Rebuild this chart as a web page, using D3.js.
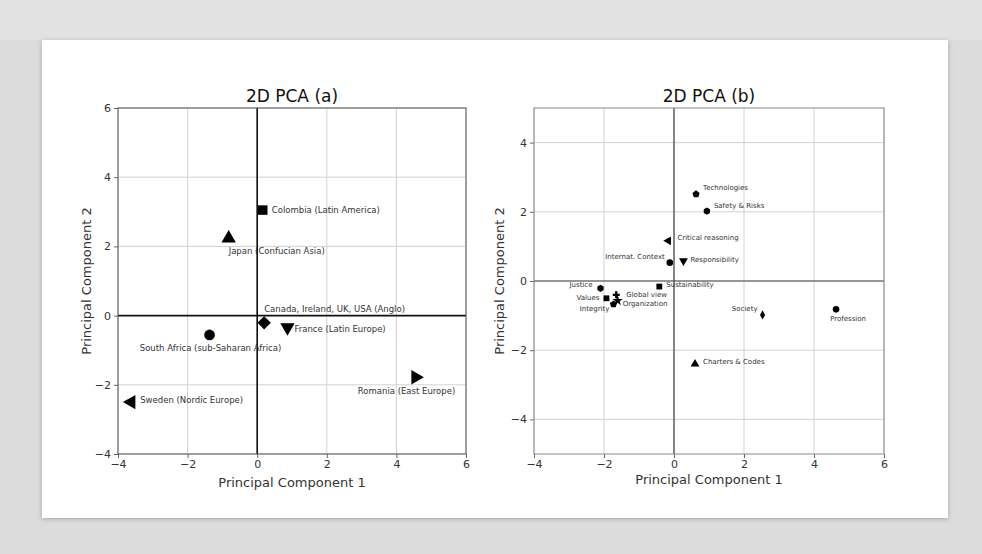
<!DOCTYPE html>
<html>
<head>
<meta charset="utf-8">
<script src="https://cdn.jsdelivr.net/npm/d3@7"></script>
<style>
  html, body { margin: 0; padding: 0; background: #dadada; }
  svg { display: block; font-family: "DejaVu Sans", sans-serif; }
</style>
</head>
<body>
<div class="container"></div>
<script>
// panel (a): cultural clusters
const countries = ['Colombia (Latin America)', 'Japan (Confucian Asia)', 'Canada, Ireland, UK, USA (Anglo)',
    'France (Latin Europe)', 'South Africa (sub-Saharan Africa)', 'Sweden (Nordic Europe)', 'Romania (East Europe)'];
const countryPC1 = [0.16, -0.82, 0.2, 0.87, -1.37, -3.62, 4.55];
const countryPC2 = [3.05, 2.23, -0.21, -0.34, -0.56, -2.5, -1.78];
const countryMarker = ['square', 'up', 'diamond', 'down', 'circle', 'left', 'right'];

// panel (b): topics
const topics = ['Technologies', 'Safety & Risks', 'Critical reasoning', 'Internat. Context', 'Responsibility',
    'Sustainability', 'Justice', 'Values', 'Global view', 'Organization', 'Integrity', 'Society', 'Profession',
    'Charters & Codes'];
const topicPC1 = [0.63, 0.94, -0.16, -0.12, 0.27, -0.42, -2.1, -1.93, -1.65, -1.61, -1.73, 2.53, 4.63, 0.6];
const topicPC2 = [2.51, 2.02, 1.16, 0.53, 0.58, -0.16, -0.21, -0.5, -0.4, -0.57, -0.67, -0.98, -0.82, -2.4];
const topicMarker = ['pentagon', 'hexagon', 'left', 'circle', 'down', 'square', 'hexagon', 'square', 'plus',
    'star', 'pentagon', 'thin', 'circle', 'up'];

const xTicks = [-4, -2, 0, 2, 4, 6];
const yTicksA = [-4, -2, 0, 2, 4, 6];
const yTicksB = [-4, -2, 0, 2, 4];

// label placement [dx, dy, anchor] relative to marker
const placeA = [[9, 3, 'start'], [0, 16, 'start'], [0, -11, 'start'], [7, 5, 'start'], [1, 16, 'middle'],
    [9, 1, 'start'], [-9, 17, 'middle']];
const placeB = [[7, -4, 'start'], [7, -3, 'start'], [9, -1, 'start'], [-5, -4, 'end'], [7, 1, 'start'],
    [7, 0, 'start'], [-8, -1, 'end'], [-7, 2, 'end'], [10, 2, 'start'], [5, 5, 'start'], [-4, 7, 'end'],
    [-5, -4, 'end'], [12, 12, 'middle'], [8, 0, 'start']];

const WIDTH = 982;
const HEIGHT = 554;

var svg = d3.select('.container').append('svg')
    .attr('width', WIDTH)
    .attr('height', HEIGHT);

// card
var defs = svg.append('defs');
var f = defs.append('filter').attr('id', 'shadow').attr('x', '-5%').attr('y', '-5%')
    .attr('width', '110%').attr('height', '110%');
f.append('feDropShadow').attr('dx', 0).attr('dy', 1).attr('stdDeviation', 2.5)
    .attr('flood-color', '#000').attr('flood-opacity', 0.25);
svg.append('rect').attr('x', 0).attr('y', 0).attr('width', WIDTH).attr('height', HEIGHT).attr('fill', '#dcdcdc');
svg.append('rect').attr('x', 0).attr('y', 0).attr('width', WIDTH).attr('height', 40).attr('fill', '#e2e2e2');
svg.append('rect').attr('x', 42).attr('y', 40).attr('width', 906).attr('height', 478)
    .attr('fill', '#fff').attr('filter', 'url(#shadow)');

// custom symbols
const polygon = (n, rot) => ({
    draw(ctx, size) {
        var r = Math.sqrt(size / (n * 0.5 * Math.sin(2 * Math.PI / n)));
        for (var i = 0; i < n; i++) {
            var a = rot + i * 2 * Math.PI / n;
            var x = r * Math.sin(a), y = -r * Math.cos(a);
            if (i === 0) ctx.moveTo(x, y); else ctx.lineTo(x, y);
        }
        ctx.closePath();
    }
});
const thinDiamond = {
    draw(ctx, size) {
        var h = Math.sqrt(size) * 0.8, w = h * 0.55;
        ctx.moveTo(0, -h); ctx.lineTo(w, 0); ctx.lineTo(0, h); ctx.lineTo(-w, 0); ctx.closePath();
    }
};
const plusFilled = {
    draw(ctx, size) {
        var r = Math.sqrt(size) * 0.6, t = r / 3;
        ctx.moveTo(-t, -r); ctx.lineTo(t, -r); ctx.lineTo(t, -t); ctx.lineTo(r, -t); ctx.lineTo(r, t);
        ctx.lineTo(t, t); ctx.lineTo(t, r); ctx.lineTo(-t, r); ctx.lineTo(-t, t); ctx.lineTo(-r, t);
        ctx.lineTo(-r, -t); ctx.lineTo(-t, -t); ctx.closePath();
    }
};

var marker = function (kind, size) {
    var types = {
        circle: [d3.symbolCircle, 0], square: [d3.symbolSquare, 0], diamond: [polygon(4, 0), 0],
        up: [d3.symbolTriangle, 0], down: [d3.symbolTriangle, 180], left: [d3.symbolTriangle, -90],
        right: [d3.symbolTriangle, 90], pentagon: [polygon(5, 0), 0], hexagon: [polygon(6, 0), 0],
        star: [d3.symbolStar, 0], plus: [plusFilled, 0], thin: [thinDiamond, 0]
    };
    var t = types[kind];
    return {path: d3.symbol().type(t[0]).size(size)(), rot: t[1]};
};

var drawPanel = function (opt) {
    var x = d3.scaleLinear().domain(opt.xDomain).range([opt.left, opt.right]);
    var y = d3.scaleLinear().domain(opt.yDomain).range([opt.bottom, opt.top]);
    var g = svg.append('g');

    // grid
    g.selectAll('.gx').data(xTicks).enter().append('line')
        .attr('x1', d => x(d)).attr('x2', d => x(d)).attr('y1', opt.top).attr('y2', opt.bottom)
        .attr('stroke', '#d2d2d2').attr('stroke-width', 1);
    g.selectAll('.gy').data(opt.yTicks).enter().append('line')
        .attr('y1', d => y(d)).attr('y2', d => y(d)).attr('x1', opt.left).attr('x2', opt.right)
        .attr('stroke', '#d2d2d2').attr('stroke-width', 1);

    // axes
    var xAxis = d3.axisBottom(x).tickValues(xTicks).tickSize(4).tickPadding(2)
        .tickFormat(d => d < 0 ? '\u2212' + Math.abs(d) : d);
    var yAxis = d3.axisLeft(y).tickValues(opt.yTicks).tickSize(4).tickPadding(3)
        .tickFormat(d => d < 0 ? '\u2212' + Math.abs(d) : d);
    var ax = g.append('g').attr('transform', `translate(0, ${opt.bottom})`).call(xAxis);
    var ay = g.append('g').attr('transform', `translate(${opt.left}, 0)`).call(yAxis);
    [ax, ay].forEach(a => {
        a.select('.domain').remove();
        a.selectAll('line').attr('stroke', '#666');
        a.selectAll('text').attr('font-size', 11).attr('fill', '#333').attr('font-family', '"DejaVu Sans", sans-serif');
    });

    // zero lines
    g.append('line').attr('x1', x(0)).attr('x2', x(0)).attr('y1', opt.top).attr('y2', opt.bottom)
        .attr('stroke', opt.zeroColor).attr('stroke-width', opt.zeroWidth);
    g.append('line').attr('y1', y(0)).attr('y2', y(0)).attr('x1', opt.left).attr('x2', opt.right)
        .attr('stroke', opt.zeroColor).attr('stroke-width', opt.zeroWidth);

    // frame
    g.append('rect').attr('x', opt.left).attr('y', opt.top)
        .attr('width', opt.right - opt.left).attr('height', opt.bottom - opt.top)
        .attr('fill', 'none').attr('stroke', opt.frameColor).attr('stroke-width', 1);

    // title and axis labels
    g.append('text').attr('x', (opt.left + opt.right) / 2).attr('y', opt.top - 6)
        .attr('text-anchor', 'middle').attr('font-size', 17).attr('fill', '#111').text(opt.title);
    g.append('text').attr('x', (opt.left + opt.right) / 2).attr('y', opt.bottom + opt.xLabelGap)
        .attr('text-anchor', 'middle').attr('font-size', 13).attr('fill', '#333').text('Principal Component 1');
    g.append('text')
        .attr('transform', `translate(${opt.yLabelX}, ${(opt.top + opt.bottom) / 2}) rotate(-90)`)
        .attr('text-anchor', 'middle').attr('font-size', 13).attr('fill', '#333').text('Principal Component 2');

    // points
    var pts = opt.names.map((n, i) => ({name: n, pc1: opt.pc1[i], pc2: opt.pc2[i], m: opt.markers[i], p: opt.place[i]}));
    var node = g.selectAll('.pt').data(pts).enter().append('g');
    node.append('path')
        .attr('d', d => marker(d.m, opt.size).path)
        .attr('transform', d => `translate(${x(d.pc1)}, ${y(d.pc2)}) rotate(${marker(d.m, opt.size).rot})`)
        .attr('fill', '#000');
    node.append('text')
        .attr('x', d => x(d.pc1) + d.p[0])
        .attr('y', d => y(d.pc2) + d.p[1])
        .attr('text-anchor', d => d.p[2])
        .attr('font-size', opt.labelSize).attr('fill', '#333')
        .text(d => d.name);
};

drawPanel({
    title: '2D PCA (a)', xDomain: [-4, 6], yDomain: [-4, 6], yTicks: yTicksA,
    left: 118, right: 466, top: 108, bottom: 454,
    names: countries, pc1: countryPC1, pc2: countryPC2, markers: countryMarker, place: placeA,
    size: 90, labelSize: 8.5, zeroColor: '#111', zeroWidth: 1.6, frameColor: '#555',
    xLabelGap: 33, yLabelX: 91
});

drawPanel({
    title: '2D PCA (b)', xDomain: [-4, 6], yDomain: [-5, 5], yTicks: yTicksB,
    left: 534, right: 884, top: 108, bottom: 454,
    names: topics, pc1: topicPC1, pc2: topicPC2, markers: topicMarker, place: placeB,
    size: 34, labelSize: 7, zeroColor: '#444', zeroWidth: 1.2, frameColor: '#888',
    xLabelGap: 30, yLabelX: 504
});
</script>
</body>
</html>
